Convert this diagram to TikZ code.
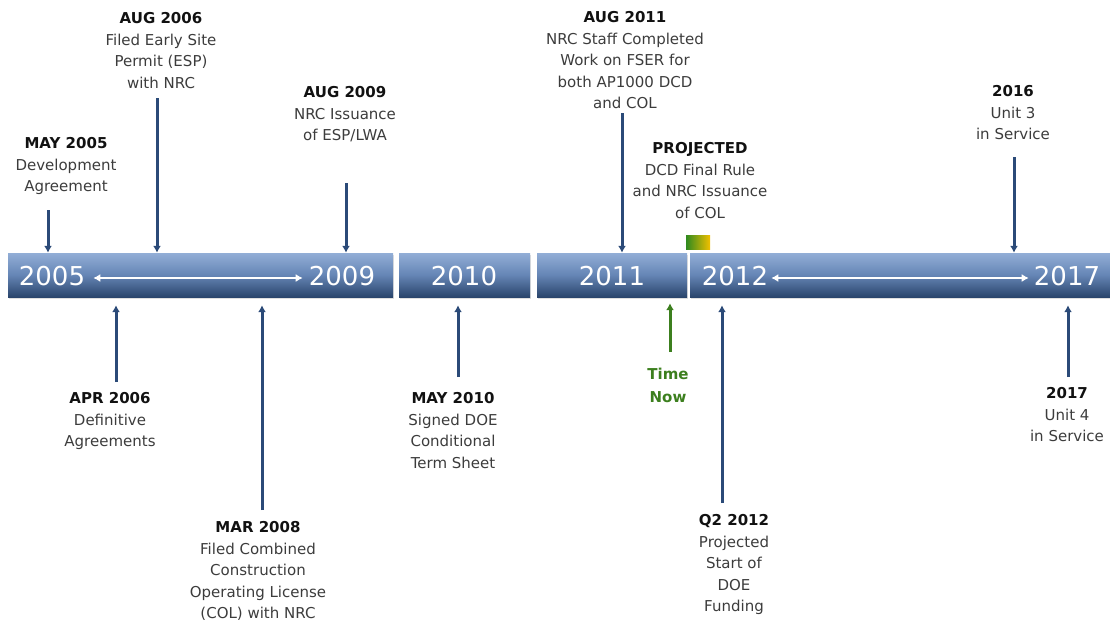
\documentclass[tikz,border=0pt]{standalone}
\usepackage{fontspec}
\setmainfont{DejaVu Sans}
\usetikzlibrary{arrows.meta,shadows}
\definecolor{arrc}{HTML}{2B4A78}
\definecolor{bartop}{HTML}{92AED6}
\definecolor{barmid}{HTML}{6585B5}
\definecolor{barbot}{HTML}{2A456C}
\definecolor{datec}{HTML}{111111}
\definecolor{descc}{HTML}{3C3C3C}
\definecolor{nowc}{HTML}{3C7F1E}
\definecolor{gleft}{HTML}{2F8A1F}
\definecolor{gright}{HTML}{F2C000}
\tikzset{
  bar/.style={rectangle, inner sep=0, minimum height=44pt, top color=bartop, bottom color=barbot, middle color=barmid, draw=none,
    drop shadow={shadow xshift=1pt, shadow yshift=-2pt, opacity=0.25}},
  yr/.style={text=white, font=\fontsize{26}{29}\selectfont, inner sep=0},
  lbl/.style={align=center, inner sep=0, anchor=north, text=descc, font=\fontsize{15}{21.5}\selectfont},
  arr/.style={draw=arrc, line width=3pt, -{Latex[length=7pt,width=8pt]}},
  narr/.style={draw=nowc, line width=3pt, -{Latex[length=7pt,width=8pt]}},
  warr/.style={draw=white, line width=1.8pt, {Latex[length=7pt,width=8pt]}-{Latex[length=7pt,width=8pt]}},
}
\newcommand{\dt}[1]{\textcolor{datec}{\bfseries #1}}
\begin{document}
\begin{tikzpicture}[x=1pt,y=-1pt]
\useasboundingbox (0,0) rectangle (1110,624);
% bars
\node[bar, minimum width=385pt] (b1) at (200.5,275) {};
\node[bar, minimum width=131pt] (b2) at (464.5,275) {};
\node[bar, minimum width=150pt] (b3) at (612,275) {};
\node[bar, minimum width=420pt] (b4) at (900,275) {};
% year labels
\node[yr] (y2005) at (52,276) {2005};
\node[yr] (y2009) at (342,276) {2009};
\node[yr] (y2010) at (464,276) {2010};
\node[yr] (y2011) at (612,276) {2011};
\node[yr] (y2012) at (735,276) {2012};
\node[yr] (y2017) at (1067,276) {2017};
\draw[warr] ([xshift=8pt,yshift=-2pt]y2005.east) -- ([xshift=-6pt,yshift=-2pt]y2009.west);
\draw[warr] ([xshift=3pt,yshift=-2pt]y2012.east) -- ([xshift=-5pt,yshift=-2pt]y2017.west);
% now marker
\node[rectangle, inner sep=0, minimum width=24pt, minimum height=14pt, left color=gleft, right color=gright] (mark) at (698,242.5) {};
% top labels
\node[lbl] (l1) at (66,137.5) {\dt{MAY 2005}\\Development\\Agreement};
\node[lbl] (l2) at (161,12.5) {\dt{AUG 2006}\\Filed Early Site\\Permit (ESP)\\with NRC};
\node[lbl] (l3) at (345,86.5) {\dt{AUG 2009}\\NRC Issuance\\of ESP/LWA};
\node[lbl] (l4) at (625,11.5) {\dt{AUG 2011}\\NRC Staff Completed\\Work on FSER for\\both AP1000 DCD\\and COL};
\node[lbl] (l5) at (700,142.5) {\dt{PROJECTED}\\DCD Final Rule\\and NRC Issuance\\of COL};
\node[lbl] (l6) at (1013,85.5) {\dt{2016}\\Unit 3\\in Service};
% bottom labels
\node[lbl] (l7) at (110,392.5) {\dt{APR 2006}\\Definitive\\Agreements};
\node[lbl] (l8) at (258,521.5) {\dt{MAR 2008}\\Filed Combined\\Construction\\Operating License\\(COL) with NRC};
\node[lbl] (l9) at (453,392.5) {\dt{MAY 2010}\\Signed DOE\\Conditional\\Term Sheet};
\node[lbl, text=nowc, font=\fontsize{15}{23.5}\selectfont\bfseries] (l10) at (668,367.5) {Time\\Now};
\node[lbl] (l11) at (734,514.5) {\dt{Q2 2012}\\Projected\\Start of\\DOE\\Funding};
\node[lbl] (l12) at (1067,387.5) {\dt{2017}\\Unit 4\\in Service};
% top arrows
\coordinate (t1) at (48,210);
\coordinate (t2) at (157,98);
\coordinate (t3) at (346,183);
\coordinate (t4) at (622,113);
\coordinate (t6) at (1014,157);
\draw[arr] (t1) -- (t1 |- b1.north);
\draw[arr] (t2) -- (t2 |- b1.north);
\draw[arr] (t3) -- (t3 |- b1.north);
\draw[arr] (t4) -- (t4 |- b3.north);
\draw[arr] (t6) -- (t6 |- b4.north);
% bottom arrows
\coordinate (u7) at (116,382);
\coordinate (u8) at (262,510);
\coordinate (u9) at (458,377);
\coordinate (u10) at (670,352);
\coordinate (u11) at (722,503);
\coordinate (u12) at (1068,377);
\draw[arr, shorten >=8pt] (u7) -- (u7 |- b1.south);
\draw[arr, shorten >=8pt] (u8) -- (u8 |- b1.south);
\draw[arr, shorten >=8pt] (u9) -- (u9 |- b2.south);
\draw[narr, shorten >=6pt] (u10) -- (u10 |- b3.south);
\draw[arr, shorten >=8pt] (u11) -- (u11 |- b4.south);
\draw[arr, shorten >=8pt] (u12) -- (u12 |- b4.south);
\end{tikzpicture}
\end{document}
